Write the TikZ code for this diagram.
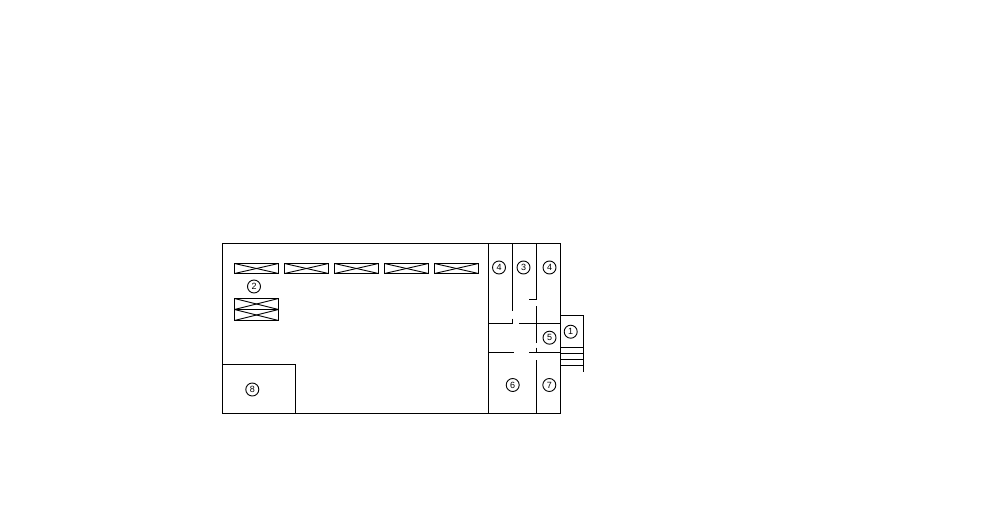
\documentclass[tikz,border=0pt]{standalone}
\usepackage{fontspec}
\setmainfont{Liberation Sans}
\tikzset{
  wall/.style={line width=1.1pt},
  thin wall/.style={line width=0.9pt},
  room tag/.style={draw,circle,line width=0.9pt,inner sep=0pt,minimum size=13pt,font=\fontsize{9}{9}\selectfont}
}
\begin{document}
\begin{tikzpicture}[x=1pt,y=-1pt]
  \useasboundingbox (0,0) rectangle (984,508);
  % outline and room 8
  \draw[wall] (222.5,243.5) rectangle (560.5,413.5);
  \draw[wall] (222.5,364.5) -- (295.5,364.5) -- (295.5,413.5);
  % partitions
  \begin{scope}[wall]
    \draw (488.5,243.5) -- (488.5,413.5);
    \draw (512.5,243.5) -- (512.5,311);
    \draw (512.5,318.5) -- (512.5,323.5) -- (488.5,323.5);
    \draw (519,323.5) -- (560.5,323.5);
    \draw (536.5,243.5) -- (536.5,299.5) -- (529,299.5);
    \draw (536.5,306) -- (536.5,342.5);
    \draw (488.5,352.5) -- (514,352.5);
    \draw (529,352.5) -- (560.5,352.5);
    \draw (536.5,347.5) -- (536.5,352.5);
    \draw (536.5,360) -- (536.5,413.5);
  \end{scope}
  % stairs
  \draw[wall] (560.5,315.5) -- (583.5,315.5) -- (583.5,371.5);
  \foreach \y in {347.5,353.5,359.5,365.5}
    \draw[wall] (560.5,\y) -- (583.5,\y);
  % racks
  \foreach \x in {234.5,284.5,334.5,384.5,434.5} {
    \draw[wall] (\x,263.5) rectangle ++(44,10);
    \draw[thin wall] (\x,263.5) -- ++(44,10);
    \draw[thin wall] (\x,273.5) -- ++(44,-10);
  }
  \foreach \y in {298.5,309.5} {
    \draw[wall] (234.5,\y) rectangle ++(44,11);
    \draw[thin wall] (234.5,\y) -- ++(44,11);
    \draw[thin wall] (234.5,\y+11) -- ++(44,-11);
  }
  % room numbers
  \node[room tag] (tag1) at (570.7,331.7) {1};
  \node[room tag] (tag2) at (254,286.5) {2};
  \node[room tag] (tag3) at (523.5,267.5) {3};
  \node[room tag] (tag4a) at (499,267.5) {4};
  \node[room tag] (tag4b) at (549.5,267.5) {4};
  \node[room tag] (tag5) at (549.5,337.7) {5};
  \node[room tag] (tag6) at (512.7,385) {6};
  \node[room tag] (tag7) at (549.3,385) {7};
  \node[room tag] (tag8) at (252.3,389.5) {8};
\end{tikzpicture}
\end{document}
